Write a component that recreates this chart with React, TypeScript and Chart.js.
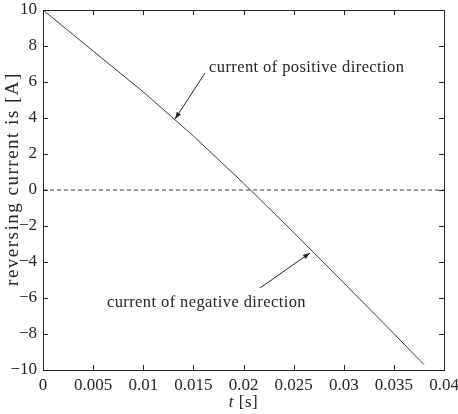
import React, { useEffect, useRef } from "react";
import { Chart, registerables } from "chart.js";

Chart.register(...registerables);

// Data
const timeS = [0, 0.005, 0.01, 0.015, 0.02, 0.025, 0.03, 0.035, 0.038];
const currentA = [10, 7.72, 5.45, 3.0, 0.38, -2.36, -5.16, -7.98, -9.7];
const zeroLineT = [0, 0.04];
const zeroLineI = [0, 0];
const xTickValues = [0, 0.005, 0.01, 0.015, 0.02, 0.025, 0.03, 0.035, 0.04];
const xTickLabels = ["0", "0.005", "0.01", "0.015", "0.02", "0.025", "0.03", "0.035", "0.04"];
const yTickValues = [-10, -8, -6, -4, -2, 0, 2, 4, 6, 8, 10];
const yTickLabels = ["\u221210", "\u22128", "\u22126", "\u22124", "\u22122", "0", "2", "4", "6", "8", "10"];

const annotationTexts = ["current of positive direction", "current of negative direction"];
const annotationTextAt = [
  [0.01656, 6.78],
  [0.00638, -6.28],
];
const arrowFrom = [
  [0.01616, 6.5],
  [0.02165, -5.44],
];
const arrowTo = [
  [0.01317, 3.94],
  [0.02663, -3.5],
];
const yTitle = "reversing current is [A]";

const FONT = "'Liberation Serif', 'Times New Roman', serif";
const INK = "#262626";

const framePlugin = {
  id: "frame",
  afterDraw(chart: any) {
    const { ctx, chartArea } = chart;
    const xs = chart.scales.x;
    const ys = chart.scales.y;
    const { left, right, top, bottom } = chartArea;
    ctx.save();
    ctx.strokeStyle = INK;
    ctx.lineWidth = 1;
    ctx.strokeRect(Math.round(left) + 0.5, Math.round(top) + 0.5, Math.round(right - left), Math.round(bottom - top));
    const tl = 5;
    ctx.beginPath();
    xTickValues.forEach((v) => {
      const px = Math.round(xs.getPixelForValue(v)) + 0.5;
      ctx.moveTo(px, bottom);
      ctx.lineTo(px, bottom - tl);
      ctx.moveTo(px, top);
      ctx.lineTo(px, top + tl);
    });
    yTickValues.forEach((v) => {
      const py = Math.round(ys.getPixelForValue(v)) + 0.5;
      ctx.moveTo(left, py);
      ctx.lineTo(left + tl, py);
      ctx.moveTo(right, py);
      ctx.lineTo(right - tl, py);
    });
    ctx.stroke();

    // annotations
    ctx.fillStyle = INK;
    ctx.font = `16.5px ${FONT}`;
    (ctx as any).letterSpacing = "0.4px";
    ctx.textBaseline = "middle";
    ctx.textAlign = "left";
    annotationTexts.forEach((t, i) => {
      ctx.fillText(t, xs.getPixelForValue(annotationTextAt[i][0]), ys.getPixelForValue(annotationTextAt[i][1]));
      const x0 = xs.getPixelForValue(arrowFrom[i][0]);
      const y0 = ys.getPixelForValue(arrowFrom[i][1]);
      const x1 = xs.getPixelForValue(arrowTo[i][0]);
      const y1 = ys.getPixelForValue(arrowTo[i][1]);
      ctx.beginPath();
      ctx.moveTo(x0, y0);
      ctx.lineTo(x1, y1);
      ctx.stroke();
      const ang = Math.atan2(y1 - y0, x1 - x0);
      const hl = 7;
      const hw = 2.5;
      ctx.beginPath();
      ctx.moveTo(x1, y1);
      ctx.lineTo(x1 - hl * Math.cos(ang) + hw * Math.sin(ang), y1 - hl * Math.sin(ang) - hw * Math.cos(ang));
      ctx.lineTo(x1 - hl * Math.cos(ang) - hw * Math.sin(ang), y1 - hl * Math.sin(ang) + hw * Math.cos(ang));
      ctx.closePath();
      ctx.fill();
    });

    // y title (rotated)
    ctx.save();
    ctx.font = `19px ${FONT}`;
    (ctx as any).letterSpacing = "1.5px";
    ctx.translate(13, 179);
    ctx.rotate(-Math.PI / 2);
    ctx.textAlign = "center";
    ctx.textBaseline = "middle";
    ctx.fillText(yTitle, 0, 0);
    ctx.restore();

    // x title with italic t
    (ctx as any).letterSpacing = "0.5px";
    const cx = (left + right) / 2;
    const by = 407;
    ctx.textBaseline = "alphabetic";
    ctx.textAlign = "left";
    ctx.font = `italic 17px ${FONT}`;
    const w1 = ctx.measureText("t").width;
    ctx.font = `17px ${FONT}`;
    const rest = " [s]";
    const w2 = ctx.measureText(rest).width;
    const sx = cx - (w1 + w2) / 2;
    ctx.font = `italic 17px ${FONT}`;
    ctx.fillText("t", sx, by);
    ctx.font = `17px ${FONT}`;
    ctx.fillText(rest, sx + w1, by);
    ctx.restore();
  },
};

export default function App() {
  const ref = useRef<HTMLCanvasElement | null>(null);
  useEffect(() => {
    document.body.style.margin = "0";
    const canvas = ref.current;
    if (!canvas) return;
    const chart = new Chart(canvas, {
      type: "scatter",
      data: {
        datasets: [
          {
            data: timeS.map((t, i) => ({ x: t, y: currentA[i] })),
            showLine: true,
            borderColor: "#3a3a3a",
            borderWidth: 1,
            pointRadius: 0,
            tension: 0,
          },
          {
            data: zeroLineT.map((t, i) => ({ x: t, y: zeroLineI[i] })),
            showLine: true,
            borderColor: "#3a3a3a",
            borderWidth: 1,
            borderDash: [4, 3],
            pointRadius: 0,
          },
        ],
      },
      options: {
        responsive: false,
        animation: false,
        layout: { padding: { top: 10, right: 14, left: 0, bottom: 0 } },
        plugins: { legend: { display: false }, tooltip: { enabled: false } },
        scales: {
          x: {
            type: "linear",
            min: 0,
            max: 0.04,
            grid: { display: false, drawTicks: false },
            border: { display: false },
            afterBuildTicks: (s: any) => {
              s.ticks = xTickValues.map((v) => ({ value: v }));
            },
            afterFit: (s: any) => {
              s.height = 44;
              s.paddingLeft = 0;
              s.paddingRight = 0;
            },
            ticks: {
              padding: 5,
              color: INK,
              font: { family: FONT, size: 17 },
              maxRotation: 0,
              autoSkip: false,
              callback: (_v: any, i: number) => xTickLabels[i],
            },
          },
          y: {
            type: "linear",
            min: -10,
            max: 10,
            grid: { display: false, drawTicks: false },
            border: { display: false },
            afterBuildTicks: (s: any) => {
              s.ticks = yTickValues.map((v) => ({ value: v }));
            },
            afterFit: (s: any) => {
              s.width = 43;
              s.paddingTop = 0;
              s.paddingBottom = 0;
            },
            ticks: {
              padding: 6,
              color: INK,
              font: { family: FONT, size: 17 },
              autoSkip: false,
              callback: (_v: any, i: number) => yTickLabels[i],
            },
          },
        },
      },
      plugins: [framePlugin],
    });
    return () => chart.destroy();
  }, []);
  return <canvas ref={ref} width={458} height={414} style={{ display: "block" }} />;
}
